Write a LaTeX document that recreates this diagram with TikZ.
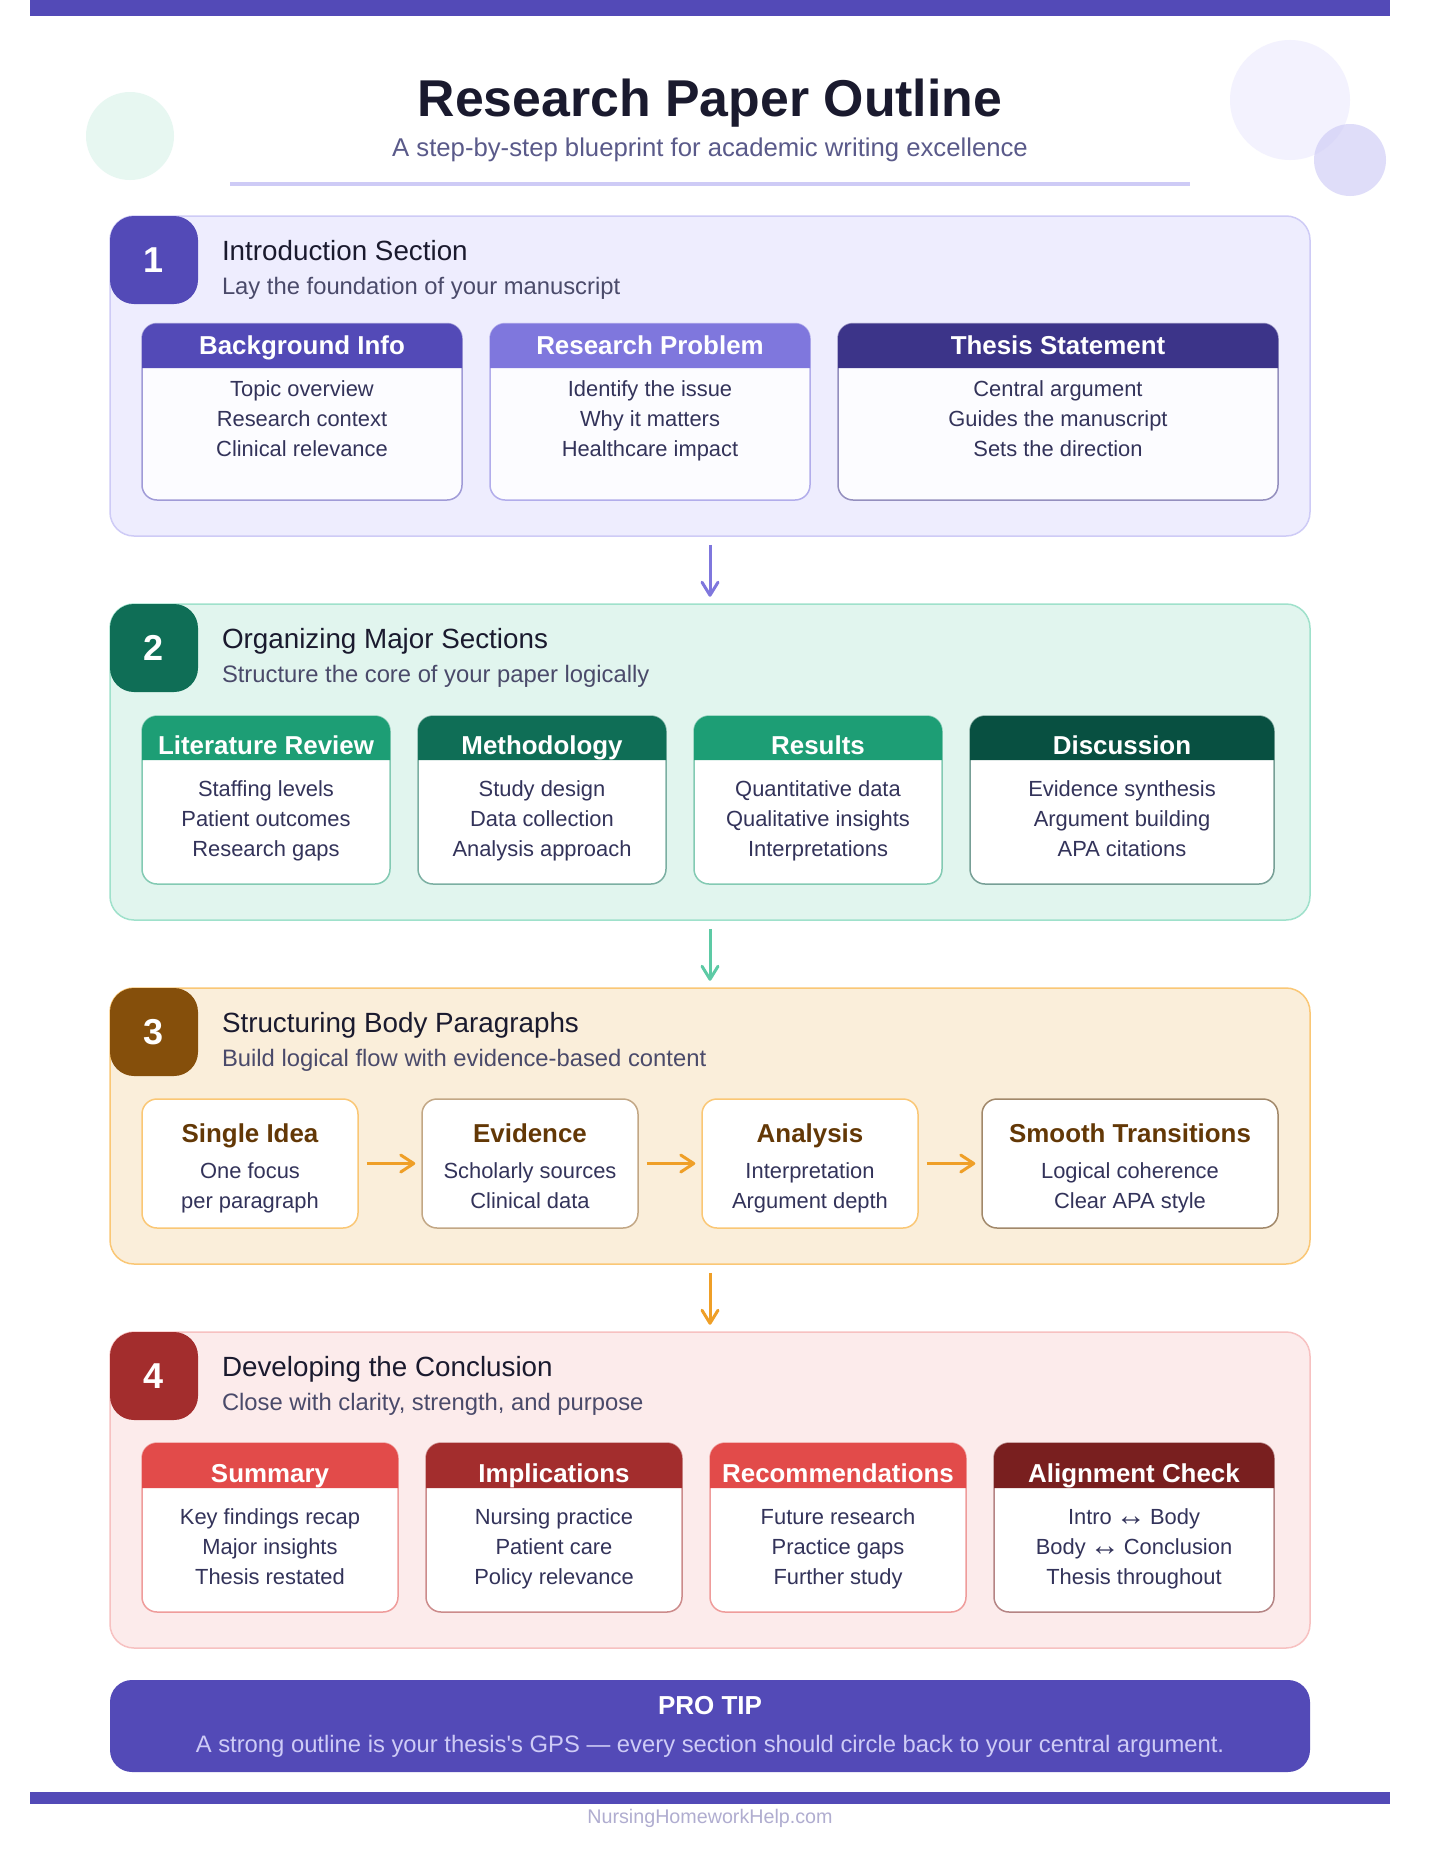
\documentclass[tikz,border=0pt]{standalone}
\usepackage{fontspec}
\usetikzlibrary{arrows.meta}
\newfontfamily\lib{Liberation Sans}
\definecolor{pA}{HTML}{534AB7}\definecolor{pB}{HTML}{7F77DD}\definecolor{pC}{HTML}{3C3489}
\definecolor{pL}{HTML}{EEEDFE}\definecolor{pS}{HTML}{CECBF6}
\definecolor{tA}{HTML}{0F6E56}\definecolor{tB}{HTML}{1D9E75}\definecolor{tC}{HTML}{085041}
\definecolor{tL}{HTML}{E1F5EE}\definecolor{tS}{HTML}{9FE1CB}\definecolor{tM}{HTML}{5DCAA5}
\definecolor{aA}{HTML}{854F0B}\definecolor{aD}{HTML}{633806}\definecolor{aM}{HTML}{EF9F27}
\definecolor{aL}{HTML}{FAEEDA}\definecolor{aS}{HTML}{FAC775}
\definecolor{rA}{HTML}{A32D2D}\definecolor{rB}{HTML}{E24B4A}\definecolor{rC}{HTML}{791F1F}
\definecolor{rL}{HTML}{FCEBEB}\definecolor{rS}{HTML}{F7C1C1}
\definecolor{ink}{HTML}{1A1A2E}\definecolor{subink}{HTML}{4A4A6A}\definecolor{bodyink}{HTML}{33335A}
\definecolor{leadink}{HTML}{5A5A8A}\definecolor{footink}{HTML}{B0ADD0}\definecolor{softwhite}{HTML}{FCFCFF}
\newcommand\lrarrow{\kern-2pt\raisebox{-1.5pt}{\fontsize{30}{30}\selectfont ↔}\kern-2pt}
\tikzset{
  txt/.style={anchor=base,inner sep=0pt,outer sep=0pt,font=\lib},
  sz/.style={font=\lib\fontsize{#1}{#1}\selectfont},
  szb/.style={font=\lib\bfseries\fontsize{#1}{#1}\selectfont},
  secbox/.style={rectangle,rounded corners=24pt,line width=1.5pt,inner sep=0pt,minimum width=1200pt},
  badgebox/.style={rectangle,rounded corners=24pt,inner sep=0pt,minimum width=88pt,minimum height=88pt},
  cardbox/.style={rectangle,rounded corners=15pt,line width=1.5pt,inner sep=0pt},
  secarrow/.style={line width=3pt,-{Straight Barb[round,length=13pt,width=16pt]},shorten <=8pt,shorten >=6.5pt},
  steparrow/.style={line width=3pt,aM,-{Straight Barb[round,length=13pt,width=17pt]},shorten <=8pt,shorten >=6pt},
}
% name, top, bottom, fill, stroke, badge, number, title, subtitle
\newcommand\mysection[9]{%
  \node[secbox,fill=#4,draw=#5,minimum height={(#3-#2)*1pt}] (#1) at (710,{(#2+#3)/2}) {};
  \node[badgebox,fill=#6] (#1-badge) at (154,{#2+44}) {};
  \node[txt,szb=36,text=white] (#1-num) at (154,{#2+56}) {#7};
  \node[txt,sz=27.8,text=ink,anchor=base west] (#1-title) at (222,{#2+44}) {#8};
  \node[txt,sz=23.8,text=subink,anchor=base west] (#1-sub) at (222,{#2+78}) {#9};
}
% name, x1, x2, head colour, stroke, title, l1, l2, l3  (uses \yt \yb \yh \yhb \ya \yc \ye)
\newcommand\mycard[9]{%
  \node[cardbox,fill=\cardfill,draw=#5,minimum width={(#3-#2)*1pt},minimum height={(\yb-\yt)*1pt}] (#1) at ({(#2+#3)/2},{(\yb+\yt)/2}) {};
  \fill[#4] (#2,\yh) [rounded corners=15pt] -- (#2,\yt) -- (#3,\yt) [sharp corners] -- (#3,\yh) -- cycle;
  \node[txt,szb=25.9,text=white] (#1-head) at ({(#2+#3)/2},\yhb) {#6};
  \node[txt,sz=21.9,text=bodyink] (#1-a) at ({(#2+#3)/2},\ya) {#7};
  \node[txt,sz=21.9,text=bodyink] (#1-b) at ({(#2+#3)/2},\yc) {#8};
  \node[txt,sz=21.9,text=bodyink] (#1-c) at ({(#2+#3)/2},\ye) {#9};
}
% name, x1, x2, stroke, title, l1, l2
\newcommand\flowcard[7]{%
  \node[cardbox,fill=white,draw=#4,minimum width={(#3-#2)*1pt},minimum height=129pt] (#1) at ({(#2+#3)/2},1163.5) {};
  \node[txt,szb=25.9,text=aD] (#1-head) at ({(#2+#3)/2},1142) {#5};
  \node[txt,sz=21.9,text=bodyink] (#1-a) at ({(#2+#3)/2},1178) {#6};
  \node[txt,sz=21.9,text=bodyink] (#1-b) at ({(#2+#3)/2},1208) {#7};
}
\begin{document}
\begin{tikzpicture}[x=1pt,y=-1pt]
\useasboundingbox (0,0) rectangle (1440,1860);
\fill[white] (0,0) rectangle (1440,1860);
% decoration
\fill[pA] (30,0) rectangle (1390,16);
\fill[tL,opacity=.8] (130,136) circle[radius=44pt];
\fill[pL,opacity=.7] (1290,100) circle[radius=60pt];
\fill[pS,opacity=.65] (1350,160) circle[radius=36pt];
% header
\node[txt,szb=51.8,text=ink] (maintitle) at (710,116) {Research Paper Outline};
\node[txt,sz=25.7,text=leadink] (lead) at (710,156) {A step-by-step blueprint for academic writing excellence};
\draw[pS,line width=4pt] (230,184) -- (1190,184);
% sections
\mysection{s1}{216}{536}{pL}{pS}{pA}{1}{Introduction Section}{Lay the foundation of your manuscript}
\mysection{s2}{604}{920}{tL}{tS}{tA}{2}{Organizing Major Sections}{Structure the core of your paper logically}
\mysection{s3}{988}{1264}{aL}{aS}{aA}{3}{Structuring Body Paragraphs}{Build logical flow with evidence-based content}
\mysection{s4}{1332}{1648}{rL}{rS}{rA}{4}{Developing the Conclusion}{Close with clarity, strength, and purpose}
% section 1 cards
\def\cardfill{softwhite}
\def\yt{323.5}\def\yb{500}\def\yh{368}\def\yhb{354}\def\ya{396}\def\yc{426}\def\ye{456.5}
\mycard{c11}{142}{462}{pA}{pA!55}{Background Info}{Topic overview}{Research context}{Clinical relevance}
\mycard{c12}{490}{810}{pB}{pB!60}{Research Problem}{Identify the issue}{Why it matters}{Healthcare impact}
\mycard{c13}{838}{1278}{pC}{pC!55}{Thesis Statement}{Central argument}{Guides the manuscript}{Sets the direction}
% section 2 cards
\def\cardfill{white}
\def\yt{716}\def\yb{884}\def\yh{760}\def\yhb{754}\def\ya{796}\def\yc{826}\def\ye{856}
\mycard{c21}{142}{390}{tB}{tB!55}{Literature Review}{Staffing levels}{Patient outcomes}{Research gaps}
\mycard{c22}{418}{666}{tA}{tA!55}{Methodology}{Study design}{Data collection}{Analysis approach}
\mycard{c23}{694}{942}{tB}{tB!55}{Results}{Quantitative data}{Qualitative insights}{Interpretations}
\mycard{c24}{970}{1274}{tC}{tC!55}{Discussion}{Evidence synthesis}{Argument building}{APA citations}
% section 3 cards
\flowcard{c31}{142}{358}{aS}{Single Idea}{One focus}{per paragraph}
\flowcard{c32}{422}{638}{aA!50}{Evidence}{Scholarly sources}{Clinical data}
\flowcard{c33}{702}{918}{aS}{Analysis}{Interpretation}{Argument depth}
\flowcard{c34}{982}{1278}{aD!60}{Smooth Transitions}{Logical coherence}{Clear APA style}
\draw[steparrow] (c31) -- (c32);
\draw[steparrow] (c32) -- (c33);
\draw[steparrow] (c33) -- (c34);
% section 4 cards
\def\yt{1443}\def\yb{1612}\def\yh{1488}\def\yhb{1482}\def\ya{1524}\def\yc{1554}\def\ye{1584}
\mycard{c41}{142}{398}{rB}{rB!55}{Summary}{Key findings recap}{Major insights}{Thesis restated}
\mycard{c42}{426}{682}{rA}{rA!55}{Implications}{Nursing practice}{Patient care}{Policy relevance}
\mycard{c43}{710}{966}{rB}{rB!55}{Recommendations}{Future research}{Practice gaps}{Further study}
\mycard{c44}{994}{1274}{rC}{rC!55}{Alignment Check}{Intro \lrarrow{} Body}{Body \lrarrow{} Conclusion}{Thesis throughout}
% section connectors
\draw[secarrow,pB] (s1.south) -- (s2.north);
\draw[secarrow,tM] (s2.south) -- (s3.north);
\draw[secarrow,aM] (s3.south) -- (s4.north);
% tip
\node[rectangle,rounded corners=22pt,fill=pA,inner sep=0pt,minimum width=1200pt,minimum height=92pt] (tip) at (710,1726) {};
\node[txt,szb=26,text=white] (tip-head) at (710,1714) {PRO TIP};
\node[txt,sz=23.8,text=pS] (tip-text) at (710,1752) {A strong outline is your thesis's GPS — every section should circle back to your central argument.};
% footer
\fill[pA] (30,1792) rectangle (1390,1804);
\node[txt,sz=19.7,text=footink] (foot) at (710,1823) {NursingHomeworkHelp.com};
\end{tikzpicture}
\end{document}
